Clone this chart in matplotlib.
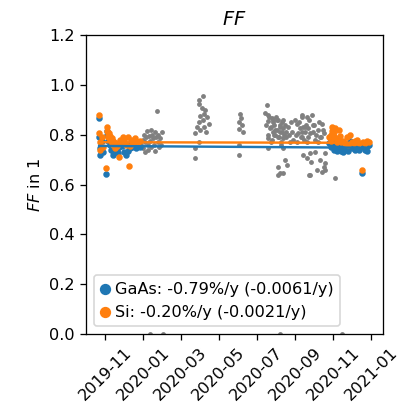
import datetime as dt
import numpy as np
import matplotlib
matplotlib.use("Agg")
import matplotlib.pyplot as plt
import matplotlib.dates as mdates

# days are counted from this date
t0 = dt.datetime(2019, 11, 1)

# --- GaAs reference cell ---
gaas_day = [-10, -10, -9, -8, -6, -3, 1, 2, 3, 5, 6, 8, 9, 10, 12, 13, 15, 18, 20, 22,
            25, 27, 30, 33, 36, 38, 40, 43, 46, 50, 53, 56,
            360, 362, 363, 364, 365, 366, 367, 368, 369, 370, 372, 374, 376, 377, 379,
            382, 385, 388, 390, 393, 396, 399, 401, 404, 408, 412, 414, 417, 420, 423]
gaas_ff = [0.868, 0.79, 0.745, 0.72, 0.775, 0.73, 0.643, 0.815, 0.80, 0.775, 0.79, 0.76,
           0.74, 0.755, 0.72, 0.735, 0.745, 0.74, 0.725, 0.75, 0.765, 0.755, 0.73, 0.72,
           0.735, 0.76, 0.745, 0.75, 0.755, 0.745, 0.76, 0.75,
           0.765, 0.775, 0.75, 0.79, 0.76, 0.75, 0.77, 0.74, 0.76, 0.745, 0.735, 0.75,
           0.78, 0.755, 0.735, 0.73, 0.745, 0.755, 0.735, 0.775, 0.745, 0.755, 0.74,
           0.745, 0.74, 0.645, 0.75, 0.74, 0.735, 0.76]

# --- Si reference cell ---
si_day = [-10, -10, -9, -8, -6, -3, 1, 2, 3, 4, 5, 6, 7, 8, 9, 10, 11, 12, 13, 14, 16,
          18, 20, 22, 24, 26, 28, 30, 33, 36, 38, 40, 42, 44, 47, 50, 53, 56,
          360, 362, 363, 364, 365, 366, 367, 368, 369, 370, 372, 374, 376, 377, 379,
          382, 385, 388, 390, 393, 396, 399, 401, 404, 408, 412, 414, 417, 420, 423]
si_ff = [0.878, 0.805, 0.77, 0.74, 0.79, 0.75, 0.665, 0.83, 0.815, 0.80, 0.79, 0.805,
         0.78, 0.795, 0.775, 0.785, 0.765, 0.775, 0.76, 0.77, 0.745, 0.755, 0.765, 0.71,
         0.78, 0.77, 0.79, 0.78, 0.76, 0.79, 0.675, 0.755, 0.78, 0.765, 0.785, 0.775,
         0.77, 0.775,
         0.79, 0.80, 0.775, 0.83, 0.815, 0.80, 0.79, 0.81, 0.825, 0.785, 0.77, 0.78,
         0.82, 0.795, 0.77, 0.775, 0.765, 0.79, 0.76, 0.80, 0.77, 0.765, 0.775, 0.78,
         0.765, 0.66, 0.77, 0.765, 0.775, 0.77]

# --- other measurements (grey) ---
other_day = [58, 60, 61, 62, 63, 64, 66, 67, 68, 69, 70, 72, 73, 74, 75, 76, 78, 79, 80,
             82, 83, 84, 85, 86, 88, 90, 91, 72, 93,
             157, 151, 150, 155, 160, 159, 152, 163, 157, 150, 166, 147, 159, 152, 144,
             162, 150, 144, 144,
             217, 218, 214, 219, 215, 221, 214, 214,
             260, 257, 262, 268, 261, 270, 276, 284, 280, 265, 272, 286, 290, 271, 278,
             262, 286, 269, 281, 286, 289, 278, 292, 286, 278, 281,
             316, 308, 313, 318, 310, 321, 326, 318, 328,
             316, 324, 332, 348, 321, 334, 342, 329, 345, 337, 351, 324, 316, 337, 329,
             353, 324, 353, 353, 329, 369,
             330, 340, 345, 348, 352,
             258, 261, 263, 266, 268, 269, 271, 273, 274, 276, 277, 279, 281, 282, 284,
             285, 287, 289, 291, 293, 295, 296, 298, 300, 302, 304, 306, 308, 312, 314,
             316, 319, 322, 325, 327, 333, 336, 339, 341, 343, 346, 349,
             262, 267, 283, 281, 380]
other_ff = [0.76, 0.78, 0.745, 0.80, 0.77, 0.73, 0.79, 0.815, 0.76, 0.74, 0.795, 0.775,
            0.82, 0.75, 0.80, 0.785, 0.76, 0.81, 0.735, 0.79, 0.895, 0.77, 0.80, 0.75,
            0.785, 0.76, 0.81, 0.0, 0.0,
            0.955, 0.939, 0.923, 0.909, 0.899, 0.885, 0.875, 0.872, 0.861, 0.852, 0.845,
            0.832, 0.832, 0.818, 0.808, 0.812, 0.772, 0.745, 0.705,
            0.885, 0.869, 0.852, 0.839, 0.822, 0.812, 0.758, 0.718,
            0.919, 0.889, 0.879, 0.866, 0.855, 0.850, 0.859, 0.850, 0.832, 0.825, 0.819,
            0.825, 0.809, 0.799, 0.792, 0.788, 0.785, 0.809, 0.809, 0.745, 0.698, 0.671,
            0.678, 0.645, 0.638, 0.645,
            0.872, 0.845, 0.825, 0.832, 0.805, 0.812, 0.825, 0.718, 0.638,
            0.879, 0.872, 0.879, 0.845, 0.832, 0.839, 0.819, 0.805, 0.792, 0.778, 0.805,
            0.771, 0.792, 0.732, 0.725, 0.725, 0.705, 0.685, 0.658, 0.638, 0.626,
            0.69, 0.66, 0.70, 0.65, 0.67,
            0.84, 0.80, 0.87, 0.83, 0.78, 0.86, 0.84, 0.80, 0.87, 0.82, 0.86, 0.79, 0.84,
            0.77, 0.81, 0.86, 0.80, 0.84, 0.79, 0.83, 0.80, 0.77, 0.85, 0.81, 0.78, 0.86,
            0.80, 0.77, 0.85, 0.79, 0.81, 0.78, 0.84, 0.79, 0.86, 0.81, 0.84, 0.80, 0.77,
            0.85, 0.79, 0.82,
            0.745, 0.77, 0.76, 0.0, 0.0]

# linear fits: value at first day and slope per year (from legend)
fit_days = [-10, 424]
gaas_fit0, gaas_slope = 0.755, -0.0061
si_fit0, si_slope = 0.770, -0.0021
gaas_label = "GaAs: -0.79%/y (-0.0061/y)"
si_label = "Si: -0.20%/y (-0.0021/y)"


def to_dates(days):
    return [t0 + dt.timedelta(days=float(d)) for d in days]


fig = plt.figure(figsize=(406 / 116, 412 / 116), dpi=116)
ax = fig.add_axes([0.212, 0.189, 0.731, 0.726])

ax.scatter(to_dates(other_day), other_ff, s=4, color="grey", zorder=1)
ax.scatter(to_dates(gaas_day), gaas_ff, s=9, color="tab:blue", zorder=2, label=gaas_label)
ax.scatter(to_dates(si_day), si_ff, s=9, color="tab:orange", zorder=3, label=si_label)

yrs = (np.array(fit_days) - fit_days[0]) / 365.25
ax.plot(to_dates(fit_days), gaas_fit0 + gaas_slope * yrs, color="tab:blue", lw=1.5, zorder=4)
ax.plot(to_dates(fit_days), si_fit0 + si_slope * yrs, color="tab:orange", lw=1.5, zorder=4)

ax.set_ylim(0, 1.2)
ax.set_xlim(dt.datetime(2019, 10, 1), dt.datetime(2021, 1, 20))
ax.xaxis.set_major_locator(mdates.MonthLocator(bymonth=[1, 3, 5, 7, 9, 11]))
ax.xaxis.set_major_formatter(mdates.DateFormatter("%Y-%m"))
plt.setp(ax.get_xticklabels(), rotation=45)

ax.set_title("$FF$")
ax.set_ylabel("$FF$ in 1")
ax.legend(loc="lower left", scatterpoints=1, markerscale=2.0,
          handlelength=0.6, handletextpad=0.3)

fig.savefig("out.png", dpi=116)
